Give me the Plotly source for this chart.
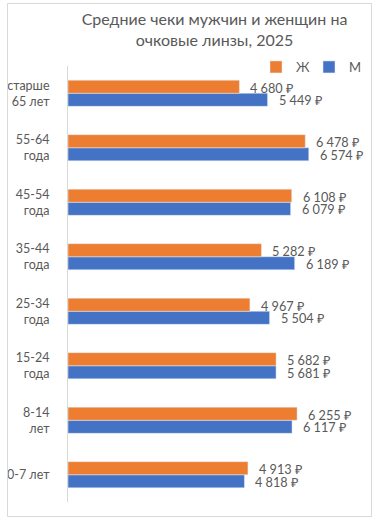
import plotly.graph_objects as go

categories = ["0-7 лет", "8-14<br>лет", "15-24<br>года", "25-34<br>года",
              "35-44<br>года", "45-54<br>года", "55-64<br>года", "старше<br>65 лет"]
women = [4913, 6255, 5682, 4967, 5282, 6108, 6478, 4680]
men = [4818, 6117, 5681, 5504, 6189, 6079, 6574, 5449]

ORANGE = "#ED7D31"
BLUE = "#4472C4"
GREY = "#595959"
LINE = "#D9D9D9"
NB = "\u00a0"


def fmt(v):
    return f"{v:,}".replace(",", NB) + NB + "₽"


fig = go.Figure()
fig.add_trace(go.Bar(
    y=categories, x=men, name="М", orientation="h", marker_color=BLUE,
    legendrank=2,
))
fig.add_trace(go.Bar(
    y=categories, x=women, name="Ж", orientation="h", marker_color=ORANGE,
    legendrank=1,
))

# data labels, anchored at each bar's value on the library's axes
for cat, w, m in zip(categories, women, men):
    fig.add_annotation(x=w, y=cat, text=fmt(w), showarrow=False,
                       xanchor="left", yanchor="middle", xshift=9, yshift=5.5,
                       font=dict(size=12.7, color=GREY))
    fig.add_annotation(x=m, y=cat, text=fmt(m), showarrow=False,
                       xanchor="left", yanchor="middle", xshift=9, yshift=-7,
                       font=dict(size=12.7, color=GREY))

W, H = 380, 520
L, R, T, B = 68, 19, 66, 18
fig.update_layout(
    width=W, height=H,
    margin=dict(l=L, r=R, t=T, b=B, autoexpand=False),
    paper_bgcolor="white", plot_bgcolor="white",
    font=dict(family="Lato, Carlito, sans-serif", color=GREY, size=13),
    title=dict(text="Средние чеки мужчин и женщин на<br>очковые линзы, 2025",
               x=0.5, xanchor="center", xref="paper", yref="container",
               y=1 - 25 / H, yanchor="middle", automargin=False,
               font=dict(size=16, color=GREY)),
    barmode="group", bargap=0.52, bargroupgap=0,
    showlegend=True,
    legend=dict(orientation="h", xref="container", yref="container",
                x=362 / W, xanchor="right",
                y=1 - 67 / H, yanchor="middle", entrywidth=8,
                font=dict(size=13, color=GREY), bgcolor="rgba(0,0,0,0)",
                traceorder="normal"),
    xaxis=dict(range=[0, 8000], visible=False, showgrid=False, zeroline=False,
               automargin=False),
    yaxis=dict(showline=True, linecolor=LINE, linewidth=1, ticks="",
               ticklabelstandoff=15, showgrid=False, automargin=False,
               tickfont=dict(size=12.5, color=GREY)),
)

ph = H - T - B
pw = W - L - R
fig.add_shape(type="rect", xref="paper", yref="paper",
              x0=(7.5 - L) / pw, x1=(371.5 - L) / pw,
              y0=-(516.5 - (H - B)) / ph, y1=1 + (T - 3.5) / ph,
              line=dict(color=LINE, width=1), fillcolor="rgba(0,0,0,0)",
              layer="above")

fig.write_html("out.html",
               config={"displayModeBar": False, "staticPlot": True},
               post_script="document.body.style.margin='0';"
                           "document.body.style.overflow='hidden';")
